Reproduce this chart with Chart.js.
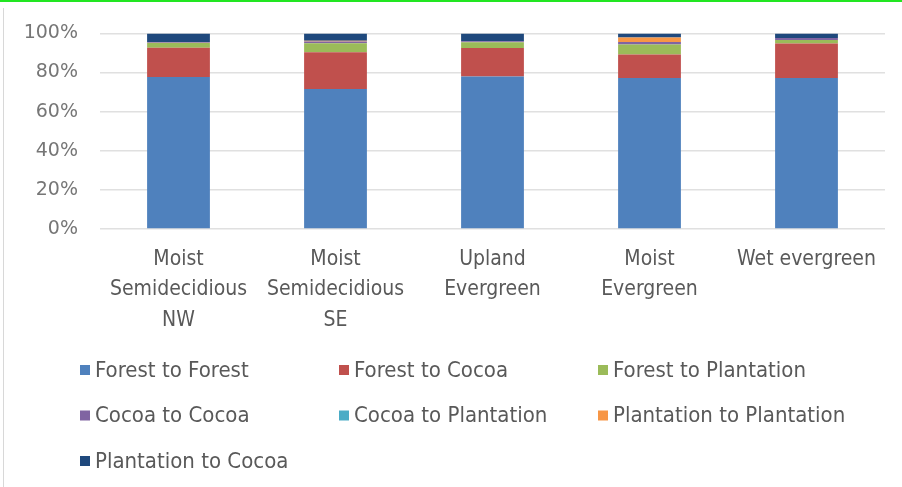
<!DOCTYPE html>
<html>
<head>
<meta charset="utf-8">
<script src="https://cdn.jsdelivr.net/npm/chart.js@4.4.1/dist/chart.umd.min.js"></script>
<style>
  html, body { margin: 0; padding: 0; background: #fff; }
  #wrap { position: relative; width: 902px; height: 487px; overflow: hidden; }
  #topline { position: absolute; left: 0; top: 0; width: 902px; height: 2px; background: #22e622; }
  #leftline { position: absolute; left: 3px; top: 8px; width: 1px; height: 479px; background: #d8d8d8; }
  canvas { position: absolute; left: 0; top: 0; }
</style>
</head>
<body>
<div id="wrap">
  <canvas id="c" width="902" height="487"></canvas>
  <div id="topline"></div>
  <div id="leftline"></div>
</div>
<script>
// Land-use transition shares (%) per forest zone
const categories = [
  ['Moist', 'Semidecidious', 'NW'],
  ['Moist', 'Semidecidious', 'SE'],
  ['Upland', 'Evergreen'],
  ['Moist', 'Evergreen'],
  ['Wet evergreen']
];
const seriesNames = [
  'Forest to Forest', 'Forest to Cocoa', 'Forest to Plantation',
  'Cocoa to Cocoa', 'Cocoa to Plantation', 'Plantation to Plantation',
  'Plantation to Cocoa'
];
const forestToForest         = [77.7, 71.6, 78.0, 77.2, 77.2];
const forestToCocoa          = [15.0, 18.8, 14.5, 12.0, 17.6];
const forestToPlantation     = [2.4, 4.6, 3.0, 5.1, 1.8];
const cocoaToCocoa           = [0.2, 0.8, 0.5, 1.3, 1.0];
const cocoaToPlantation      = [0, 0, 0, 0, 0];
const plantationToPlantation = [0.2, 0.4, 0, 2.3, 0];
const plantationToCocoa      = [4.5, 3.8, 4.0, 2.1, 2.4];
const yTicks = [0, 20, 40, 60, 80, 100];

const colors = ['#4F81BD', '#C0504D', '#9BBB59', '#8064A2', '#4BACC6', '#F79646', '#1F497D'];
const seriesValues = [forestToForest, forestToCocoa, forestToPlantation, cocoaToCocoa,
  cocoaToPlantation, plantationToPlantation, plantationToCocoa];

const narrow = "'Liberation Sans Narrow', 'DejaVu Sans Condensed', sans-serif";

// Three-column legend drawn under the axis labels
const gridLegend = {
  id: 'gridLegend',
  afterDraw(chart) {
    const ctx = chart.ctx;
    const left = 80, colW = 259, top = 370, rowH = 45.5;
    ctx.save();
    ctx.font = '22px ' + narrow;
    ctx.textBaseline = 'middle';
    ctx.textAlign = 'left';
    chart.data.datasets.forEach((ds, i) => {
      const x = left + (i % 3) * colW;
      const y = top + Math.floor(i / 3) * rowH;
      ctx.fillStyle = ds.backgroundColor;
      ctx.fillRect(x, y - 5, 10, 10);
      ctx.fillStyle = '#595959';
      ctx.fillText(ds.label, x + 15, y + 1);
    });
    ctx.restore();
  }
};

new Chart(document.getElementById('c'), {
  type: 'bar',
  data: {
    labels: categories,
    datasets: seriesNames.map((name, i) => ({
      label: name,
      data: seriesValues[i],
      backgroundColor: colors[i],
      borderWidth: 0,
      barPercentage: 0.4,
      categoryPercentage: 1.0
    }))
  },
  options: {
    responsive: false,
    animation: false,
    layout: { padding: { top: 33, right: 17, bottom: 146, left: 0 } },
    plugins: { legend: { display: false }, tooltip: { enabled: false } },
    scales: {
      x: {
        stacked: true,
        grid: { display: false },
        border: { display: false },
        ticks: {
          color: '#595959',
          font: { family: narrow, size: 21, lineHeight: 1.43 },
          maxRotation: 0, autoSkip: false, padding: 8
        },
        afterFit(scale) { scale.height = 112; }
      },
      y: {
        stacked: true,
        min: 0, max: 100,
        afterBuildTicks(scale) { scale.ticks = yTicks.map(v => ({ value: v })); },
        grid: { color: '#e0e0e0', lineWidth: 1.5, drawTicks: false },
        border: { display: false },
        ticks: {
          color: '#767676',
          font: { family: "'DejaVu Sans', sans-serif", size: 19 },
          padding: 22,
          callback: v => v + '%'
        },
        afterFit(scale) { scale.width = 100; }
      }
    }
  },
  plugins: [gridLegend]
});
</script>
</body>
</html>
